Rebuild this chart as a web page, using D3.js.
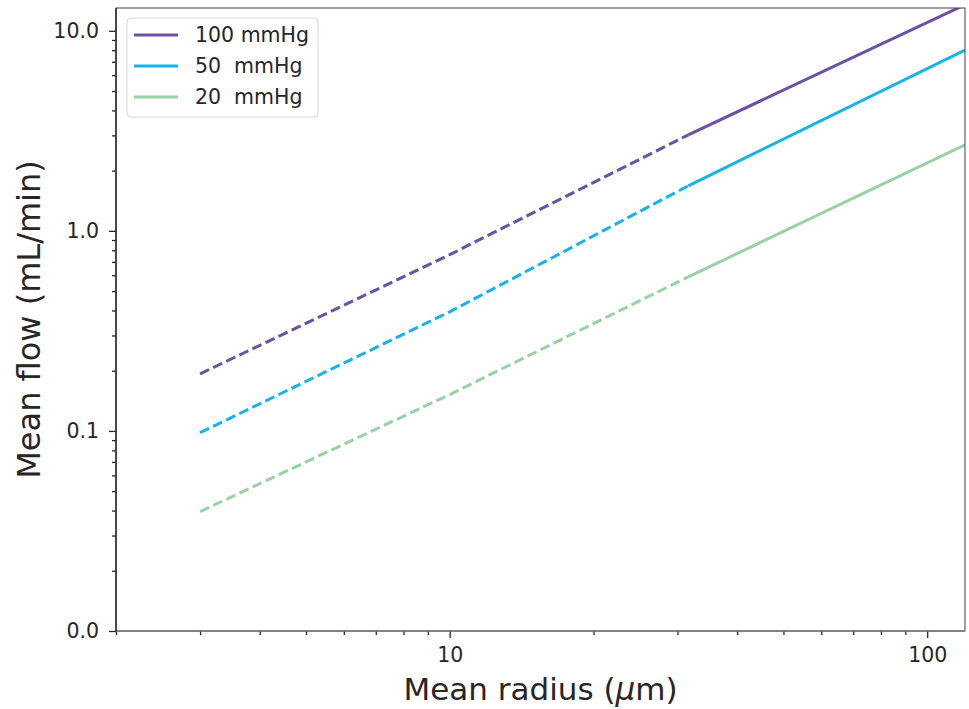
<!DOCTYPE html>
<meta charset="utf-8">
<head>
    <title>Mean flow vs mean radius</title>
    <style>
        body { margin: 0; background: white; }
        text { font-family: "DejaVu Sans", sans-serif; fill: #262626; }
    </style>
</head>
<body>
<script src="https://cdn.jsdelivr.net/npm/d3@7"></script>
<script>
    // data
    var radius = [3, 10, 31.6, 120];
    var pressures = ["100 mmHg", "50  mmHg", "20  mmHg"];
    var flow100 = [0.193, 0.76, 3.02, 13.5];
    var flow50 = [0.098, 0.394, 1.68, 8.0];
    var flow20 = [0.0395, 0.152, 0.589, 2.69];
    var switchRadius = 31.6;   // dashed below, solid above
    var yTicks = [0.01, 0.1, 1, 10];
    var yTickLabels = ["0.0", "0.1", "1.0", "10.0"];
    var xTicks = [10, 100];
    var colors = ["#6a51a3", "#16b3e9", "#98d1a4"];

    var margin = { top: 8, right: 4, bottom: 78, left: 116 },
        width = 969 - margin.left - margin.right,
        height = 709 - margin.top - margin.bottom;

    var svg = d3.select("body").append("svg")
        .attr("width", width + margin.left + margin.right)
        .attr("height", height + margin.top + margin.bottom);

    var g = svg.append("g")
        .attr("transform", "translate(" + margin.left + "," + margin.top + ")");

    var x = d3.scaleLog().domain([2, 120]).range([0, width]);
    var y = d3.scaleLog().domain([0.01, 13]).range([height, 0]);

    // minor ticks
    var xMinor = [], yMinor = [];
    [1, 10, 100].forEach(function(base) {
        for (var i = 2; i <= 9; i++) {
            var v = base * i;
            if (v >= 2 && v <= 120) xMinor.push(v);
        }
    });
    [0.01, 0.1, 1, 10].forEach(function(base) {
        for (var i = 2; i <= 9; i++) {
            var v = base * i;
            if (v <= 13) yMinor.push(v);
        }
    });

    g.append("defs").append("clipPath").attr("id", "clip")
        .append("rect").attr("width", width).attr("height", height);

    // series
    var series = [flow100, flow50, flow20];
    var line = d3.line()
        .x(function(d) { return x(d[0]); })
        .y(function(d) { return y(d[1]); });

    var lines = g.append("g").attr("clip-path", "url(#clip)");
    series.forEach(function(vals, k) {
        var pts = radius.map(function(r, i) { return [r, vals[i]]; });
        var dashed = pts.filter(function(p) { return p[0] <= switchRadius; });
        var solid = pts.filter(function(p) { return p[0] >= switchRadius; });
        lines.append("path").datum(dashed)
            .attr("d", line)
            .attr("fill", "none")
            .attr("stroke", colors[k])
            .attr("stroke-width", 3)
            .attr("stroke-dasharray", "10,4.5");
        lines.append("path").datum(solid)
            .attr("d", line)
            .attr("fill", "none")
            .attr("stroke", colors[k])
            .attr("stroke-width", 3);
    });

    // axes
    var xAxis = g.append("g").attr("transform", "translate(0," + height + ")")
        .call(d3.axisBottom(x).tickValues(xTicks).tickFormat(d3.format("d"))
            .tickSize(7).tickPadding(9));
    g.append("g").attr("transform", "translate(0," + height + ")")
        .call(d3.axisBottom(x).tickValues(xMinor).tickFormat("").tickSize(4))
        .select(".domain").remove();

    var yAxis = g.append("g")
        .call(d3.axisLeft(y).tickValues(yTicks)
            .tickFormat(function(d, i) { return yTickLabels[i]; })
            .tickSize(7).tickPadding(10));
    g.append("g")
        .call(d3.axisLeft(y).tickValues(yMinor).tickFormat("").tickSize(4))
        .select(".domain").remove();

    g.selectAll(".tick text").style("font-size", "20.5px").attr("fill", "#262626");
    g.selectAll(".tick line").attr("stroke", "#262626").attr("stroke-width", 1.3);
    xAxis.select(".domain").remove();
    yAxis.select(".domain").remove();

    // spines
    g.append("rect").attr("width", width).attr("height", height)
        .attr("fill", "none").attr("stroke", "#444").attr("stroke-width", 1);
    g.append("line").attr("x1", 0).attr("x2", width).attr("y1", height).attr("y2", height)
        .attr("stroke", "#777").attr("stroke-width", 1.6);
    g.append("line").attr("x1", 0).attr("x2", 0).attr("y1", 0).attr("y2", height)
        .attr("stroke", "#222").attr("stroke-width", 1.4);

    // labels
    var xl = svg.append("text")
        .attr("x", margin.left + width / 2).attr("y", 700)
        .attr("text-anchor", "middle").style("font-size", "31px")
        .text("Mean radius (");
    xl.append("tspan").style("font-style", "italic").text("μ");
    xl.append("tspan").text("m)");
    svg.append("text")
        .attr("transform", "translate(40," + (margin.top + height / 2) + ") rotate(-90)")
        .attr("text-anchor", "middle").style("font-size", "32px")
        .text("Mean flow (mL/min)");

    // legend
    var legend = svg.append("g").attr("transform", "translate(127,18)");
    legend.append("rect").attr("width", 191).attr("height", 99).attr("rx", 4)
        .attr("fill", "white").attr("stroke", "#d6d6d6");
    pressures.forEach(function(p, i) {
        var yy = 17 + i * 31;
        legend.append("line").attr("x1", 7).attr("x2", 51).attr("y1", yy).attr("y2", yy)
            .attr("stroke", colors[i]).attr("stroke-width", 3);
        legend.append("text").attr("x", 68).attr("y", yy + 7)
            .style("font-size", "20.5px").style("white-space", "pre")
            .text(p);
    });
</script>
</body>
</html>
